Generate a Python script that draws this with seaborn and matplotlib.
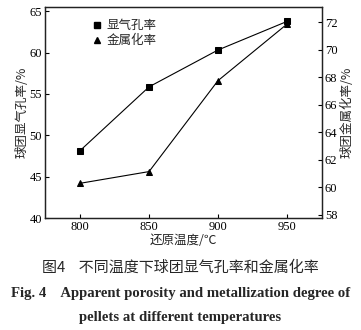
import matplotlib
matplotlib.use("Agg")
import matplotlib.pyplot as plt
import seaborn as sns
import pandas as pd
from matplotlib.lines import Line2D

temps = [800, 850, 900, 950]
porosity = [48.15, 55.85, 60.3, 63.75]
metallization = [60.3, 61.15, 67.75, 71.85]
left_ticks = [40, 45, 50, 55, 60, 65]
right_ticks = [58, 60, 62, 64, 66, 68, 70, 72]

sns.set_theme(style="ticks")
plt.rcParams['font.family'] = ['Liberation Serif', 'Noto Sans CJK SC', 'DejaVu Sans']
cjk = ['Noto Sans CJK SC', 'DejaVu Sans']

df = pd.DataFrame({"temp": temps, "porosity": porosity, "metal": metallization})

fig = plt.figure(figsize=(3.61, 3.30), dpi=100)
ax = fig.add_axes([45/361, 1-218/330, (322-45)/361, (218-7)/330])
ax2 = ax.twinx()

sns.lineplot(data=df, x="temp", y="porosity", ax=ax, color="black", lw=0.8,
             marker="s", markersize=4.5, markeredgecolor="black", legend=False)
sns.lineplot(data=df, x="temp", y="metal", ax=ax2, color="black", lw=0.8,
             marker="^", markersize=5, markeredgecolor="black", legend=False)

ax.set_xlim(774.5, 975.5)
ax.set_ylim(40, 65.5)
ax2.set_ylim(57.78, 73.1)
ax.set_xticks(temps)
ax.set_yticks(left_ticks)
ax2.set_yticks(right_ticks)

for a in (ax, ax2):
    a.tick_params(direction="in", length=3, width=0.8, labelsize=9, pad=2, colors="black")
    for s in a.spines.values():
        s.set_linewidth(0.9)
        s.set_color("#222222")

ax.set_xlabel("还原温度/℃", fontsize=9, family=cjk, labelpad=1)
ax.set_ylabel("球团显气孔率/%", fontsize=9, family=cjk, labelpad=1)
ax2.set_ylabel("球团金属化率/%", fontsize=9, family=cjk, labelpad=2)

handles = [Line2D([], [], color="black", marker="s", ls="none", markersize=4.5),
           Line2D([], [], color="black", marker="^", ls="none", markersize=5)]
ax.legend(handles, ["显气孔率", "金属化率"], loc="upper left", bbox_to_anchor=(0.135, 0.985),
          frameon=False, prop={"family": cjk, "size": 9}, handletextpad=0.2,
          handlelength=1.0, labelspacing=0.2, borderaxespad=0.3)

fig.text(0.5, 1-268/330, "图4    不同温度下球团显气孔率和金属化率", ha="center", va="center",
         fontsize=10.8, family=cjk)
fig.text(0.5, 1-293/330, "Fig. 4    Apparent porosity and metallization degree of", ha="center",
         va="center", fontsize=10.6, family=["Liberation Serif"], weight="bold")
fig.text(0.5, 1-318/330, "pellets at different temperatures", ha="center",
         va="center", fontsize=10.6, family=["Liberation Serif"], weight="bold")

fig.savefig("out.png", dpi=100)
